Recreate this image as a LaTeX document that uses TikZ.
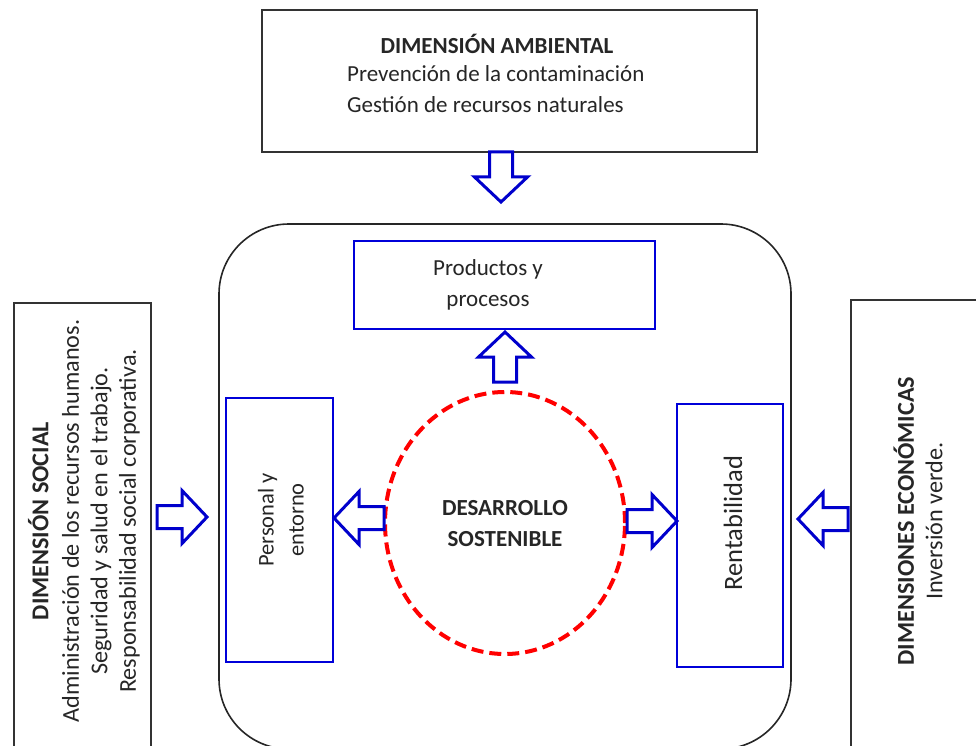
\documentclass[tikz,border=0pt]{standalone}
\usepackage{fontspec}
\setmainfont{Carlito}
\begin{document}
\begin{tikzpicture}[x=1pt,y=-1pt,
  txt/.style={font=\fontsize{23}{30.5}\selectfont, text=black!85, inner sep=0pt, align=center},
  sidetxt/.style={txt, font=\fontsize{24.2}{28.5}\selectfont, rotate=90},
  dimbox/.style={draw=black!80, line width=1.6pt, rectangle, inner sep=0pt},
  bluebox/.style={draw=blue!85!black, line width=1.4pt, rectangle, inner sep=0pt, fill=white},
  arrowline/.style={draw=blue!80!black, line width=3pt, fill=white, line join=miter},
  blockarrow/.pic={\path[arrowline] (0,-11.5) -- (25,-11.5) -- (25,-26.5) -- (50,0) -- (25,26.5) -- (25,11.5) -- (0,11.5) -- cycle;}
]
\useasboundingbox (0,0) rectangle (976,746);
\begin{scope}
\clip (0,0) rectangle (976,746);
% big rounded container
\draw[black!85, line width=1.6pt, rounded corners=70pt] (219,224) rectangle (791,749);
% side boxes
\node[dimbox, minimum width=137pt, minimum height=460pt] (soc) at (82.5,533) {};
\node[dimbox, minimum width=140pt, minimum height=460pt] (eco) at (921,530) {};
\end{scope}
% top box
\node[dimbox, minimum width=495pt, minimum height=142pt] (amb) at (509.5,81) {};
\node[txt, font=\fontsize{23}{30.5}\selectfont\bfseries] (ambt) at (497,44) {DIMENSIÓN AMBIENTAL};
\node[txt, anchor=west] (amb1) at (347,74) {Prevención de la contaminación};
\node[txt, anchor=west] (amb2) at (347,105) {Gestión de recursos naturales};

% inner boxes
\node[bluebox, minimum width=301pt, minimum height=88pt] (prod) at (504.5,285) {};
\node[txt] (prodt) at (488,285) {Productos y\\procesos};
\node[bluebox, minimum width=107pt, minimum height=264pt] (pers) at (279.5,530) {};
\node[txt, font=\fontsize{22.5}{30}\selectfont, rotate=90] (perst) at (281,520) {Personal y\\entorno};
\node[bluebox, minimum width=106pt, minimum height=263pt] (rent) at (730,535.5) {};
\node[txt, font=\fontsize{26.5}{30}\selectfont, rotate=90] (rentt) at (733,523) {Rentabilidad};

% circle
\draw[red, line width=4pt, dash pattern=on 12pt off 6pt] (505,523) ellipse [x radius=120pt, y radius=131pt];
\node[txt, font=\fontsize{23}{31}\selectfont\bfseries] (ds) at (505,523.5) {DESARROLLO\\SOSTENIBLE};

% side texts
\node[sidetxt] (soct) at (84,521) {\textbf{DIMENSIÓN SOCIAL}\\[2pt]Administración de los recursos humanos.\\Seguridad y salud en el trabajo.\\Responsabilidad social corporativa.};
\node[sidetxt] (ecot) at (918,521) {\textbf{DIMENSIONES ECONÓMICAS}\\Inversión verde.};

% block arrows
\pic[rotate=-90] at (501,152) {blockarrow};
\pic[rotate=90] at (505,382) {blockarrow};
\pic[rotate=180] at (384,518) {blockarrow};
\pic at (627,521) {blockarrow};
\pic at (157,517) {blockarrow};
\pic[rotate=180] at (848,519) {blockarrow};
\end{tikzpicture}
\end{document}
